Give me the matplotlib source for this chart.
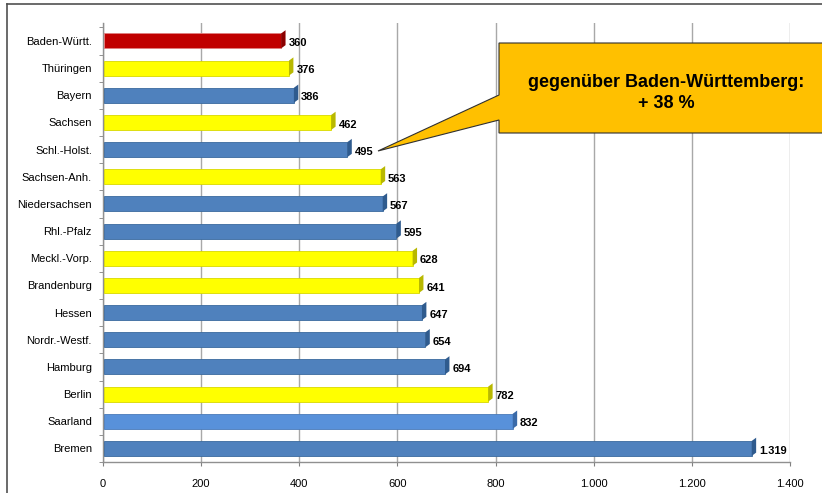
import matplotlib.pyplot as plt
import matplotlib.patches as mpatches
import matplotlib.lines as mlines
import numpy as np

plt.rcParams['font.family'] = ['Liberation Sans', 'DejaVu Sans']

# Data
laender = ['Baden-Württ.', 'Thüringen', 'Bayern', 'Sachsen', 'Schl.-Holst.',
           'Sachsen-Anh.', 'Niedersachsen', 'Rhl.-Pfalz', 'Meckl.-Vorp.',
           'Brandenburg', 'Hessen', 'Nordr.-Westf.', 'Hamburg', 'Berlin',
           'Saarland', 'Bremen']
werte = [360, 376, 386, 462, 495, 563, 567, 595, 628, 641, 647, 654, 694, 782, 832, 1319]
gruppe = ['bw', 'ost', 'west', 'ost', 'west', 'ost', 'west', 'west', 'ost',
          'ost', 'west', 'west', 'west', 'ost', 'saar', 'west']
x_ticks = [0, 200, 400, 600, 800, 1000, 1200, 1400]
x_ticklabels = ['0', '200', '400', '600', '800', '1.000', '1.200', '1.400']
callout_text = 'gegenüber Baden-Württemberg:\n+ 38 %'

farben = {'bw': '#C00000', 'ost': '#FFFF00', 'west': '#4F81BD', 'saar': '#5891DA'}
seiten = {'bw': '#8B0000', 'ost': '#B8B800', 'west': '#2F5B8E', 'saar': '#3A6AA8'}
kanten = {'bw': '#E08080', 'ost': '#D8D800', 'west': '#3A6A9E', 'saar': '#4A7AB8'}

W, H = 822, 493
fig = plt.figure(figsize=(W / 100, H / 100), dpi=100)
ax = fig.add_axes([103 / W, 1 - 462 / H, (790 - 103) / W, (462 - 23) / H])

y = np.arange(len(laender))
h = 0.55
for i, (v, g) in enumerate(zip(werte, gruppe)):
    ax.barh(i, v, left=3, height=h, color=farben[g], edgecolor=kanten[g], linewidth=0.6, zorder=3)
    # pseudo 3D end face
    dx, dy = 9, 0.12
    cap = mpatches.Polygon([(v + 3, i - h / 2), (v + 3 + dx, i - h / 2 - dy),
                            (v + 3 + dx, i + h / 2 - dy), (v + 3, i + h / 2)],
                           closed=True, facecolor=seiten[g], edgecolor='none', zorder=3)
    ax.add_patch(cap)
    lab = f'{v:,}'.replace(',', '.')
    ax.text(v + 18, i + 0.08, lab, va='center', ha='left', fontsize=8,
            fontweight='bold', color='black', zorder=4)

ax.set_xlim(0, 1400)
ax.set_ylim(15.36, -0.66)
ax.set_yticks(y)
ax.set_yticklabels(laender, fontsize=8)
ax.set_yticks(np.arange(-0.5, 16, 1), minor=True)
ax.set_xticks(x_ticks)
ax.set_xticklabels(x_ticklabels, fontsize=8)
ax.tick_params(axis='y', which='major', length=0, pad=8)
ax.tick_params(axis='y', which='minor', length=3, color='#808080')
ax.tick_params(axis='x', length=3, color='#808080', pad=9)
ax.grid(axis='x', color='#A8A8A8', linewidth=1.0, zorder=0)
for s in ['top', 'right']:
    ax.spines[s].set_visible(False)
for s in ['left', 'bottom']:
    ax.spines[s].set_color('#909090')
    ax.spines[s].set_linewidth(1.0)

# Callout (figure pixel coordinates)
def px(xp, yp):
    return (xp / W, 1 - yp / H)

callout = mpatches.Polygon([px(499, 43), px(840, 43), px(840, 133), px(499, 133),
                            px(499, 120), px(378, 151), px(499, 95)],
                           closed=True, facecolor='#FFC000', edgecolor='#303030',
                           linewidth=0.8, transform=fig.transFigure, zorder=10)
fig.patches.append(callout)
fig.text(666 / W, 1 - 93 / H, callout_text, ha='center', va='center', fontsize=13,
         fontweight='bold', linespacing=1.3, zorder=11)

# outer frame lines
fig.add_artist(mlines.Line2D([7 / W, 7 / W], [0, 1 - 4 / H], color='#505050', linewidth=1.2))
fig.add_artist(mlines.Line2D([7 / W, 1], [1 - 4 / H, 1 - 4 / H], color='#505050', linewidth=1.2))

fig.savefig('out.png', dpi=100)
